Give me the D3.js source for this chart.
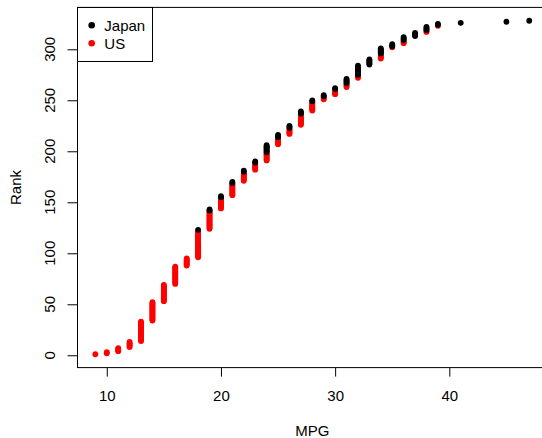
<!DOCTYPE html>
<html><head><meta charset="utf-8">
<script src="https://cdn.jsdelivr.net/npm/d3@7"></script>
<style>
body{margin:0;background:#fff}
svg text{font-family:"Liberation Sans",Arial,Helvetica,sans-serif;font-size:15px;fill:#000}
</style>
</head><body>
<svg id="chart" width="542" height="438"></svg>
<script>
// MPG (rounded) values present in the data
const mpgValues   = [9,10,11,12,13,14,15,16,17,18,19,20,21,22,23,24,25,26,27,28,29,30,31,32,33,34,35,36,37,38,39,41,45,47];
// number of US cars at each MPG
const usCounts    = [1,2,4,6,20,19,17,18,8,27,18,11,12,9,7,8,7,6,11,9,3,5,4,3,0,5,1,3,0,2,1,0,0,0];
// number of Japanese cars at each MPG
const japanCounts = [0,0,0,0,0,0,0,0,0,1,2,2,2,2,2,8,3,3,3,2,2,2,5,10,6,6,3,4,4,4,2,1,1,1];
const seriesNames  = ["Japan","US"];
const seriesColors = ["#000000","#FF0000"];
const xTicks = [10,20,30,40];
const yTicks = [0,50,100,150,200,250,300];
const xLabel = "MPG", yLabel = "Rank";

// rank every car by MPG (US first within ties, then Japan)
const usPts = [], jpPts = [];
let r = 0;
mpgValues.forEach((m,i)=>{
  for(let k=0;k<usCounts[i];k++){ r++; usPts.push({mpg:m, rank:r}); }
  for(let k=0;k<japanCounts[i];k++){ r++; jpPts.push({mpg:m, rank:r}); }
});
const all = usPts.concat(jpPts);

const svg = d3.select("#chart");
const L = 78, R = 546.6, T = 7.4, B = 367.6;
const xe = d3.extent(all,d=>d.mpg), ye = d3.extent(all,d=>d.rank);
const xp = (xe[1]-xe[0])*0.04, yp = (ye[1]-ye[0])*0.04;
const x = d3.scaleLinear().domain([xe[0]-xp, xe[1]+xp]).range([L,R]);
const y = d3.scaleLinear().domain([ye[0]-yp, ye[1]+yp]).range([B,T]);

// points
const rad = 2.9;
svg.append("g").selectAll("circle").data(usPts).join("circle")
  .attr("cx",d=>x(d.mpg)).attr("cy",d=>y(d.rank)).attr("r",rad).attr("fill",seriesColors[1]);
svg.append("g").selectAll("circle").data(jpPts).join("circle")
  .attr("cx",d=>x(d.mpg)).attr("cy",d=>y(d.rank)).attr("r",rad).attr("fill",seriesColors[0]);

// box
svg.append("rect").attr("x",L-0.5).attr("y",T).attr("width",R-L+0.5).attr("height",B-T)
  .attr("fill","none").attr("stroke","#000").attr("stroke-width",1);

// x axis
const xa = d3.axisBottom(x).tickValues(xTicks).tickSize(9).tickPadding(13.5).tickFormat(d3.format("d"));
const gx = svg.append("g").attr("transform",`translate(0,${B})`).call(xa);
gx.select(".domain").remove();
gx.selectAll("line").attr("stroke","#000");
gx.selectAll("text").style("font-size","15px").style("font-family","'Liberation Sans',Arial,sans-serif").attr("fill","#000");

// y axis
const ya = d3.axisLeft(y).tickValues(yTicks).tickSize(10).tickFormat("");
const gy = svg.append("g").attr("transform",`translate(${L-0.5},0)`).call(ya);
gy.select(".domain").remove();
gy.selectAll("line").attr("stroke","#000");
svg.append("g").selectAll("text").data(yTicks).join("text")
  .attr("x",55).attr("y",d=>y(d))
  .attr("text-anchor","middle")
  .attr("transform",d=>`rotate(-90,55,${y(d)})`)
  .text(d=>d);

// axis titles
svg.append("text").attr("x",(L+R)/2).attr("y",435.5).attr("text-anchor","middle").text(xLabel);
svg.append("text").attr("x",20.5).attr("y",(T+B)/2).attr("text-anchor","middle")
  .attr("transform",`rotate(-90,20.5,${(T+B)/2})`).text(yLabel);

// legend
const lg = svg.append("g");
lg.append("rect").attr("x",77.5).attr("y",7.5).attr("width",75).attr("height",54)
  .attr("fill","#fff").attr("stroke","#000");
seriesNames.forEach((n,i)=>{
  lg.append("circle").attr("cx",91.7).attr("cy",25.3+18*i).attr("r",rad+0.4).attr("fill",seriesColors[i]);
  lg.append("text").attr("x",104.3).attr("y",30.8+18*i).text(n);
});
</script>
</body></html>
